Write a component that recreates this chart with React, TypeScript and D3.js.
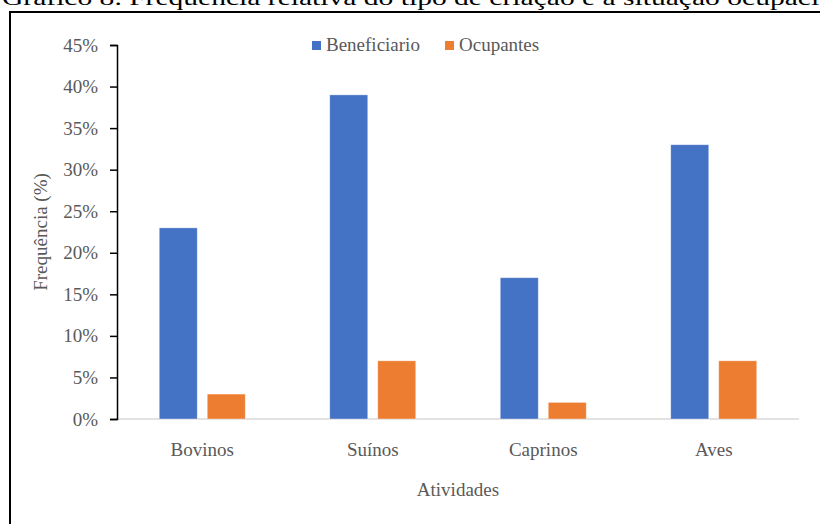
import React, { useEffect, useRef } from 'react';
import * as d3 from 'd3';

const categories = ['Bovinos', 'Suínos', 'Caprinos', 'Aves'];
const seriesNames = ['Beneficiario', 'Ocupantes'];
const beneficiario = [23, 39, 17, 33];
const ocupantes = [3, 7, 2, 7];
const yTicks = [0, 5, 10, 15, 20, 25, 30, 35, 40, 45];
const colors = ['#4472C4', '#ED7D31'];

const W = 820;
const H = 524;
const FONT = '"Liberation Serif", "Times New Roman", serif';

const App: React.FC = () => {
  const svgRef = useRef<SVGSVGElement>(null);

  useEffect(() => {
    if (!svgRef.current) return;
    const svg = d3.select(svgRef.current);
    svg.selectAll('*').remove();

    const margin = { top: 45, left: 117, right: 21, bottom: 105 };
    const plotW = W - margin.left - margin.right;
    const plotH = H - margin.top - margin.bottom;

    svg.append('rect').attr('width', W).attr('height', H).attr('fill', '#fff');

    // caption above the frame, cropped like the source picture
    svg.append('text')
      .attr('x', 2)
      .attr('y', 5)
      .attr('textLength', 868)
      .attr('lengthAdjust', 'spacingAndGlyphs')
      .style('font-family', FONT)
      .style('font-size', '22px')
      .style('fill', '#000')
      .text('Gráfico 8. Frequência relativa do tipo de criação e a situação ocupacional');

    // frame
    svg.append('path')
      .attr('d', `M10,${H + 5} L10,12 L${W + 5},12`)
      .attr('fill', 'none')
      .attr('stroke', '#000')
      .attr('stroke-width', 2);

    const g = svg.append('g').attr('transform', `translate(${margin.left},${margin.top})`);

    const x0 = d3.scaleBand().domain(categories).range([0, plotW]).padding(0);
    const groupW = 86;
    const x1 = d3.scaleBand()
      .domain(seriesNames)
      .range([(x0.bandwidth() - groupW) / 2, (x0.bandwidth() + groupW) / 2])
      .paddingInner(0.208)
      .paddingOuter(0);
    const y = d3.scaleLinear().domain([0, 45]).range([plotH, 0]);

    // baseline
    g.append('line')
      .attr('x1', 0).attr('x2', plotW)
      .attr('y1', y(0)).attr('y2', y(0))
      .attr('stroke', '#D9D9D9')
      .attr('stroke-width', 1.5);

    // y axis
    const yAxis = g.append('g')
      .call(d3.axisLeft(y).tickValues(yTicks).tickSize(7).tickPadding(12).tickFormat(d => `${d}%`));
    yAxis.select('.domain').attr('stroke', '#000').attr('stroke-width', 1.5);
    yAxis.selectAll('.tick line').attr('stroke', '#000').attr('stroke-width', 1.5);
    yAxis.selectAll('.tick text')
      .style('font-family', FONT)
      .style('font-size', '19px')
      .style('fill', '#595959');

    const seriesData = [beneficiario, ocupantes];
    seriesNames.forEach((name, si) => {
      g.selectAll(`.bar-${si}`)
        .data(categories)
        .enter()
        .append('rect')
        .attr('x', c => (x0(c) || 0) + (x1(name) || 0))
        .attr('width', x1.bandwidth())
        .attr('y', (c, i) => y(seriesData[si][i]))
        .attr('height', (c, i) => y(0) - y(seriesData[si][i]))
        .attr('fill', colors[si])
        .attr('stroke', '#fff')
        .attr('stroke-opacity', 0.5)
        .attr('stroke-width', 0.75);
    });

    // category labels
    g.selectAll('.cat')
      .data(categories)
      .enter()
      .append('text')
      .attr('x', c => (x0(c) || 0) + x0.bandwidth() / 2)
      .attr('y', plotH + 37)
      .attr('text-anchor', 'middle')
      .style('font-family', FONT)
      .style('font-size', '19px')
      .style('fill', '#595959')
      .text(c => c);

    // x title
    g.append('text')
      .attr('x', plotW / 2)
      .attr('y', plotH + 77)
      .attr('text-anchor', 'middle')
      .style('font-family', FONT)
      .style('font-size', '19px')
      .style('fill', '#595959')
      .text('Atividades');

    // y title
    g.append('text')
      .attr('transform', `translate(${-70},${plotH / 2}) rotate(-90)`)
      .attr('text-anchor', 'middle')
      .style('font-family', FONT)
      .style('font-size', '19px')
      .style('fill', '#595959')
      .text('Frequência (%)');

    // legend
    const legendX = [312, 445];
    seriesNames.forEach((name, i) => {
      const lg = svg.append('g').attr('transform', `translate(${legendX[i]},${41})`);
      lg.append('rect').attr('width', 9).attr('height', 9).attr('fill', colors[i]);
      lg.append('text')
        .attr('x', 14)
        .attr('y', 10)
        .style('font-family', FONT)
        .style('font-size', '19px')
        .style('fill', '#595959')
        .text(name);
    });
  }, []);

  return (
    <div style={{ position: 'fixed', left: 0, top: 0, width: W, height: H, overflow: 'hidden' }}>
      <svg ref={svgRef} width={W} height={H} style={{ display: 'block' }} />
    </div>
  );
};

export default App;
